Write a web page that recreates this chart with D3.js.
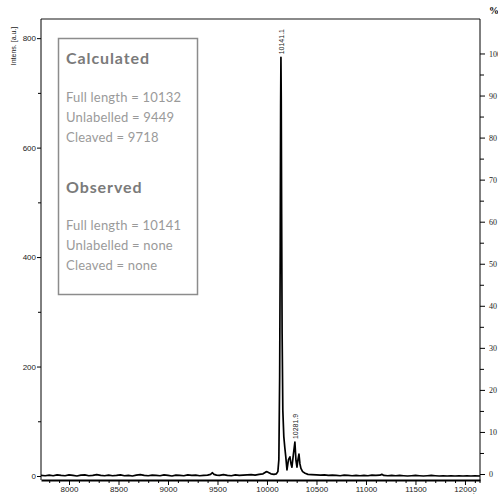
<!DOCTYPE html>
<html>
<head>
<meta charset="utf-8">
<title>Mass spectrum</title>
<script src="https://d3js.org/d3.v7.min.js"></script>
<style>
body { margin: 0; background: #fff; }
svg { display: block; }
.legend-head { font-family: Lato, sans-serif; font-weight: bold; font-size: 16px; fill: #7a7a7a; letter-spacing: 0.9px; }
.legend-line { font-family: Lato, sans-serif; font-size: 13px; fill: #9a9a9a; letter-spacing: 0.2px; }
.tick text { font-family: "Liberation Sans", Arial, sans-serif; }
</style>
</head>
<body>
<script>
// m/z and intensity of the spectrum trace
var mz = [7717, 7760, 7800, 7840, 7880, 7920, 7960, 8000, 8040, 8080, 8120, 8160, 8200, 8240, 8280,
  8320, 8360, 8400, 8440, 8480, 8520, 8560, 8600, 8640, 8680, 8720, 8760, 8800, 8840, 8880,
  8920, 8960, 9000, 9040, 9080, 9120, 9160, 9200, 9240, 9280, 9320, 9360, 9400, 9430, 9449,
  9465, 9490, 9520, 9560, 9600, 9640, 9680, 9720, 9760, 9800, 9840, 9880, 9920, 9960, 9985,
  10000, 10015, 10040, 10070, 10095, 10110, 10120, 10128, 10134, 10138, 10141, 10144, 10148, 10153, 10160,
  10170, 10180, 10190, 10202, 10217, 10232, 10243, 10252, 10267, 10282, 10293, 10303, 10313, 10323, 10333,
  10343, 10360, 10385, 10414, 10450, 10500, 10540, 10580, 10620, 10660, 10700, 10740, 10780, 10820, 10860,
  10900, 10940, 10980, 11020, 11060, 11100, 11140, 11160, 11180, 11220, 11260, 11300, 11340, 11380, 11420,
  11460, 11500, 11540, 11580, 11620, 11660, 11700, 11740, 11780, 11820, 11860, 11900, 11940, 11980, 12020,
  12060, 12100, 12152];
var intensity = [1, 0.5, 1.5, 0.5, 2, 1, 0.5, 2, 1, 0, 1.5, 2, 0.5, 1, 2.5,
  1, 0.5, 1.5, 0.5, 1, 2, 0.5, 1, 0, 1.5, 2.5, 1, 0.5, 1.5, 1,
  0.5, 2, 1, 0, 1.5, 1, 0.5, 2, 1, 1.5, 0.5, 1, 1.5, 3, 6,
  3, 1.5, 1, 2.5, 1, 0.5, 2, 1, 1.5, 2, 2.5, 1.5, 3, 4, 7,
  8, 6.5, 4, 3, 4, 8, 30, 180, 420, 680, 765, 690, 480, 260, 120,
  72, 52, 35, 11, 30, 35, 22, 16, 40, 62, 28, 16, 30, 40, 22,
  14, 8, 5, 3, 2.5, 2, 1.5, 2, 1, 1.5, 1, 0.5, 1.5, 1, 0.5,
  1, 0.5, 1, 0.5, 1.5, 1, 1.5, 3, 1, 0.5, 1, 0.5, 1, 0.5, 0,
  0.5, 1, 0.5, 0, 0.5, 1, 0.5, 0, 0.5, 0, 0.5, 0, 0.5, 0, 0.5,
  0, 0.5, 0];

// labelled peaks
var peakMz = [10141.1, 10281.9];
var peakInt = [765, 62];

// axis ticks
var xMajor = [8000, 8500, 9000, 9500, 10000, 10500, 11000, 11500, 12000];
var yMajor = [0, 200, 400, 600, 800];
var pctMajor = [0, 10, 20, 30, 40, 50, 60, 70, 80, 90, 100];

// legend box text
var calcLines = ["Full length = 10132", "Unlabelled = 9449", "Cleaved = 9718"];
var obsLines = ["Full length = 10141", "Unlabelled = none", "Cleaved = none"];

var width = 498, height = 494;
// note: "top" is taken by window.top, so the frame edges get other names
var plotLeft = 41, plotRight = 480, plotTop = 19, zeroY = 476, axisY = 480;

var svg = d3.select("body").append("svg")
    .attr("width", width)
    .attr("height", height);

var x = d3.scaleLinear().domain([7717, 12152]).range([plotLeft, plotRight]);
var y = d3.scaleLinear().domain([0, 835]).range([zeroY, plotTop]);
var pct = d3.scaleLinear().domain([0, 100]).range([zeroY - 2, y(772)]);

// top frame line (grey)
svg.append("line")
    .attr("x1", plotLeft).attr("x2", plotRight)
    .attr("y1", plotTop).attr("y2", plotTop)
    .attr("stroke", "#8a8a8a").attr("stroke-width", 2);

// bottom axis: minor ticks every 100, majors every 500
var xMinor = d3.range(7800, 12101, 100).filter(function(d) { return d % 500 != 0; });
var gx = svg.append("g").attr("transform", "translate(0," + axisY + ")");
gx.append("g")
    .call(d3.axisBottom(x).tickValues(xMinor).tickSize(3).tickFormat(""))
    .call(function(g) { g.select(".domain").remove(); })
    .selectAll("line").attr("stroke", "#000");
gx.append("g")
    .call(d3.axisBottom(x).tickValues(xMajor).tickSize(5).tickSizeOuter(0).tickFormat(d3.format("d")))
    .call(function(g) {
      g.select(".domain").attr("stroke", "#000").attr("stroke-width", 2);
      g.selectAll("text").attr("font-size", 8).attr("fill", "#222").attr("y", 6);
    });

// left axis
var gy = svg.append("g").attr("transform", "translate(" + plotLeft + ",0)");
gy.append("g")
    .call(d3.axisLeft(y).tickValues([100, 300, 500, 700]).tickSize(3).tickFormat(""))
    .call(function(g) { g.select(".domain").remove(); });
gy.append("g")
    .call(d3.axisLeft(y).tickValues(yMajor).tickSize(4).tickSizeOuter(0).tickFormat(d3.format("d")))
    .call(function(g) {
      g.select(".domain").attr("d", "M0," + plotTop + "V" + axisY);
      g.selectAll("text").attr("font-size", 8).attr("fill", "#222").attr("x", -5);
    });

// right axis (%)
var gr = svg.append("g").attr("transform", "translate(" + plotRight + ",0)");
gr.append("g")
    .call(d3.axisRight(pct).tickValues(d3.range(5, 100, 10)).tickSize(4).tickFormat(""))
    .call(function(g) { g.select(".domain").remove(); });
gr.append("g")
    .call(d3.axisRight(pct).tickValues(pctMajor).tickSize(5).tickSizeOuter(0).tickFormat(d3.format("d")))
    .call(function(g) {
      g.select(".domain").attr("d", "M0," + plotTop + "V" + (axisY + 3));
      g.selectAll("text").attr("font-size", 8).attr("fill", "#222").attr("x", 9)
        .style("font-family", "'Liberation Serif', serif");
    });

svg.append("text")
    .attr("x", 489).attr("y", 14)
    .attr("font-family", "'Liberation Serif', serif")
    .attr("font-size", 10).attr("font-weight", "bold")
    .text("%");

// axis titles
svg.append("text")
    .attr("transform", "translate(16,46) rotate(-90)")
    .attr("text-anchor", "middle")
    .attr("font-family", "'Liberation Sans', Arial, sans-serif")
    .attr("font-size", 7).attr("fill", "#222")
    .text("Intens. [a.u.]");
svg.append("text")
    .attr("x", 472).attr("y", 498)
    .attr("text-anchor", "middle")
    .attr("font-family", "'Liberation Sans', Arial, sans-serif")
    .attr("font-size", 7).attr("fill", "#222")
    .text("m/z");

// spectrum trace
var trace = mz.map(function(d, i) { return [d, intensity[i]]; });
var line = d3.line()
    .x(function(d) { return x(d[0]); })
    .y(function(d) { return y(d[1]); });
svg.append("path")
    .datum(trace)
    .attr("fill", "none")
    .attr("stroke", "#000")
    .attr("stroke-width", 1.7)
    .attr("stroke-linejoin", "round")
    .attr("d", line);

// peak labels
svg.selectAll("text.peak")
    .data(peakMz)
  .enter().append("text")
    .attr("class", "peak")
    .attr("transform", function(d, i) {
      return "translate(" + (x(d) + 3) + "," + (y(peakInt[i]) - 3) + ") rotate(-90)";
    })
    .attr("font-family", "'Liberation Sans', Arial, sans-serif")
    .attr("font-size", 7).attr("fill", "#222")
    .text(function(d) { return d.toFixed(1); });

// legend box
var box = svg.append("g");
box.append("rect")
    .attr("x", 58.5).attr("y", 38.5)
    .attr("width", 139).attr("height", 256)
    .attr("fill", "#fff")
    .attr("stroke", "#8c8c8c").attr("stroke-width", 1.5);
box.append("text").attr("class", "legend-head").attr("x", 66).attr("y", 64).text("Calculated");
box.selectAll("text.calc")
    .data(calcLines)
  .enter().append("text")
    .attr("class", "legend-line calc")
    .attr("x", 66)
    .attr("y", function(d, i) { return 102 + i * 20; })
    .text(function(d) { return d; });
box.append("text").attr("class", "legend-head").attr("x", 66).attr("y", 193).text("Observed");
box.selectAll("text.obs")
    .data(obsLines)
  .enter().append("text")
    .attr("class", "legend-line obs")
    .attr("x", 66)
    .attr("y", function(d, i) { return 230 + i * 20; })
    .text(function(d) { return d; });
</script>
</body>
</html>
